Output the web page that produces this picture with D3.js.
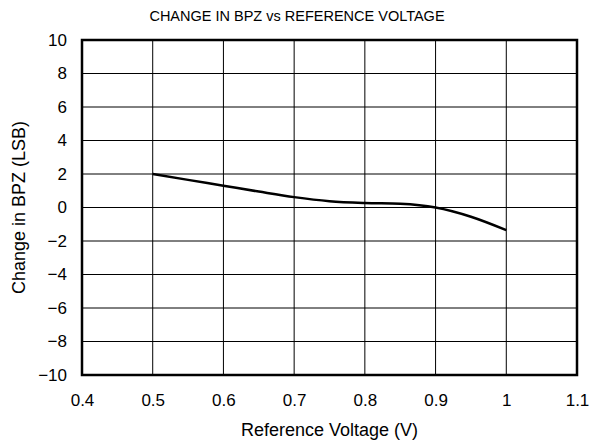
<!DOCTYPE html>
<html>
<head>
<meta charset="utf-8">
<script src="https://cdn.jsdelivr.net/npm/d3@7"></script>
<style>
body { margin: 0; background: #fff; }
text { font-family: "Liberation Sans", Arial, sans-serif; fill: #000; }
</style>
</head>
<body>
<script>
var voltage = [0.5, 0.55, 0.6, 0.65, 0.7, 0.75, 0.8, 0.85, 0.9, 0.95, 1.0];
var bpzChange = [2.0, 1.65, 1.3, 0.95, 0.62, 0.38, 0.27, 0.22, 0.0, -0.55, -1.35];
var xTicks = [0.4, 0.5, 0.6, 0.7, 0.8, 0.9, 1.0, 1.1];
var yTicks = [-10, -8, -6, -4, -2, 0, 2, 4, 6, 8, 10];

var W = 593, H = 445;
var plotL = 82, plotR = 577, plotT = 40, plotB = 375;

var svg = d3.select('body').append('svg')
    .attr('width', W)
    .attr('height', H);

var x = d3.scaleLinear().domain([0.4, 1.1]).range([plotL, plotR]);
var y = d3.scaleLinear().domain([-10, 10]).range([plotB, plotT]);

// grid
svg.append('g').selectAll('line')
    .data(xTicks.slice(1, -1))
    .enter().append('line')
    .attr('x1', function(d){return x(d);})
    .attr('x2', function(d){return x(d);})
    .attr('y1', plotT).attr('y2', plotB)
    .attr('stroke', '#000').attr('stroke-width', 1);

svg.append('g').selectAll('line')
    .data(yTicks.slice(1, -1))
    .enter().append('line')
    .attr('y1', function(d){return y(d);})
    .attr('y2', function(d){return y(d);})
    .attr('x1', plotL).attr('x2', plotR)
    .attr('stroke', '#000').attr('stroke-width', 1);

// tick labels from d3 axes, axis lines hidden
var xAxis = d3.axisBottom(x).tickValues(xTicks).tickSize(0).tickPadding(18.5)
    .tickFormat(function(d){return +d.toFixed(1);});
var yAxis = d3.axisLeft(y).tickValues(yTicks).tickSize(0).tickPadding(15)
    .tickFormat(function(d){return d < 0 ? '\u2212' + Math.abs(d) : d;});

var gx = svg.append('g').attr('transform', 'translate(0,' + plotB + ')').call(xAxis);
var gy = svg.append('g').attr('transform', 'translate(' + plotL + ',0)').call(yAxis);
gx.select('.domain').remove();
gy.select('.domain').remove();
svg.selectAll('.tick text').attr('font-size', 17).attr('font-family', '"Liberation Sans", Arial, sans-serif').attr('fill', '#000');

// frame
svg.append('rect')
    .attr('x', plotL).attr('y', plotT)
    .attr('width', plotR - plotL).attr('height', plotB - plotT)
    .attr('fill', 'none').attr('stroke', '#000').attr('stroke-width', 2.5);

// curve
var line = d3.line()
    .x(function(d, i){return x(voltage[i]);})
    .y(function(d){return y(d);})
    .curve(d3.curveMonotoneX);

svg.append('path')
    .datum(bpzChange)
    .attr('d', line)
    .attr('fill', 'none')
    .attr('stroke', '#000')
    .attr('stroke-width', 2.5);

// titles
svg.append('text')
    .attr('x', 297).attr('y', 21)
    .attr('text-anchor', 'middle').attr('font-size', 14.5)
    .text('CHANGE IN BPZ vs REFERENCE VOLTAGE');

svg.append('text')
    .attr('x', (plotL + plotR) / 2).attr('y', 436)
    .attr('text-anchor', 'middle').attr('font-size', 18)
    .text('Reference Voltage (V)');

svg.append('text')
    .attr('transform', 'translate(25,' + ((plotT + plotB) / 2) + ') rotate(-90)')
    .attr('text-anchor', 'middle').attr('font-size', 18)
    .text('Change in BPZ (LSB)');
</script>
</body>
</html>
